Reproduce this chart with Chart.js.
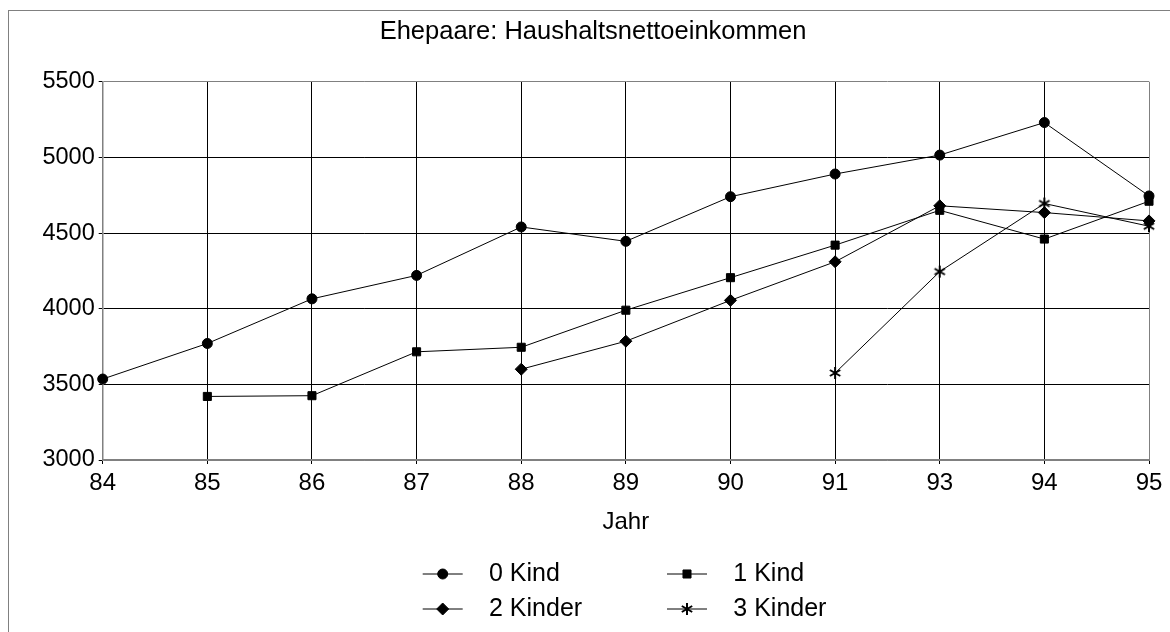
<!DOCTYPE html>
<html>
<head>
<meta charset="utf-8">
<title>Ehepaare: Haushaltsnettoeinkommen</title>
<script src="https://cdn.jsdelivr.net/npm/chart.js@4/dist/chart.umd.min.js"></script>
<style>
  html, body { margin: 0; padding: 0; background: #fff; width: 1170px; height: 632px; overflow: hidden; }
  #frame {
    position: absolute; left: 8px; top: 10px;
    width: 1170px; height: 632px;
    border: 1px solid #808080;
    background: #fff;
  }
  #chart { display: block; }
</style>
</head>
<body>
<div id="frame">
  <canvas id="chart" width="1170" height="621"></canvas>
</div>
<script>
// ─────────────────────────────────────────────
// Data
// ─────────────────────────────────────────────
const years   = ["84", "85", "86", "87", "88", "89", "90", "91", "93", "94", "95"];
const kind0   = [3535, 3770, 4065, 4220, 4540, 4445, 4740, 4890, 5015, 5230, 4745];
const kind1   = [null, 3420, 3425, 3715, 3745, 3990, 4205, 4420, 4650, 4460, 4710];
const kinder2 = [null, null, null, null, 3600, 3785, 4055, 4310, 4680, 4635, 4580];
const kinder3 = [null, null, null, null, null, null, null, 3575, 4245, 4695, 4545];
const seriesNames = ["0 Kind", "1 Kind", "2 Kinder", "3 Kinder"];
const yTicks  = [3000, 3500, 4000, 4500, 5000, 5500];

const FONT = '"Liberation Sans", Arial, sans-serif';
const GRID_EDGE = "#808080";

// six-armed asterisk marker for "3 Kinder"
function makeAsterisk(size) {
  const c = document.createElement("canvas");
  c.width = size; c.height = size;
  const g = c.getContext("2d");
  const m = size / 2, r = size / 2 - 1;
  g.strokeStyle = "#000";
  g.lineWidth = 2;
  g.lineCap = "butt";
  g.beginPath();
  [90, 30, 150].forEach(deg => {
    const a = deg * Math.PI / 180;
    g.moveTo(m - r * Math.cos(a), m - r * Math.sin(a));
    g.lineTo(m + r * Math.cos(a), m + r * Math.sin(a));
  });
  g.stroke();
  return c;
}
const asterisk = makeAsterisk(14);

function series(label, data, style, radius) {
  return {
    label, data,
    borderColor: "#000",
    borderWidth: 1,
    backgroundColor: "#000",
    pointStyle: style,
    pointRadius: radius,
    pointBackgroundColor: "#000",
    pointBorderColor: "#000",
    pointBorderWidth: 1,
    tension: 0,
    spanGaps: false,
  };
}

// ─────────────────────────────────────────────
// Legend: line + marker, two columns
// ─────────────────────────────────────────────
const lineLegend = {
  id: "lineLegend",
  afterDraw(chart) {
    const ctx  = chart.ctx;
    const cols = [413.7, 658];
    const rows = [563, 598];
    chart.data.datasets.forEach((ds, i) => {
      const x = cols[i % 2];
      const y = rows[Math.floor(i / 2)];
      ctx.save();
      ctx.strokeStyle = "#000";
      ctx.fillStyle = "#000";
      ctx.lineWidth = 1;
      ctx.beginPath();
      ctx.moveTo(x, y);
      ctx.lineTo(x + 40, y);
      ctx.stroke();
      Chart.helpers.drawPoint(ctx, {
        pointStyle: ds.pointStyle, radius: ds.pointRadius, borderWidth: 1, rotation: 0
      }, x + 20, y);
      ctx.font = `25px ${FONT}`;
      ctx.textBaseline = "middle";
      ctx.textAlign = "left";
      ctx.fillText(ds.label, x + 66.3, y);
      ctx.restore();
    });
  }
};

new Chart(document.getElementById("chart"), {
  type: "line",
  data: {
    labels: years,
    datasets: [
      series(seriesNames[0], kind0, "circle", 5),
      series(seriesNames[1], kind1, "rect", 5.7),
      series(seriesNames[2], kinder2, "rectRot", 6),
      series(seriesNames[3], kinder3, asterisk, 6),
    ]
  },
  options: {
    responsive: false,
    animation: false,
    devicePixelRatio: 1,
    events: [],
    layout: { padding: { top: 0, right: 30, bottom: 82, left: 28 } },
    plugins: {
      legend: { display: false },
      tooltip: { enabled: false },
      title: {
        display: true,
        text: "Ehepaare: Haushaltsnettoeinkommen",
        color: "#000",
        font: { family: FONT, size: 25.5, weight: "normal" },
        padding: { top: 6, bottom: 34.1 },
      },
    },
    scales: {
      x: {
        type: "category",
        offset: false,
        grid: {
          color: c => (c.index === 0 || c.index === years.length - 1) ? GRID_EDGE : "#000",
          tickColor: "#000",
          lineWidth: 1,
          tickLength: 4,
        },
        border: { color: GRID_EDGE, width: 1.5 },
        ticks: {
          color: "#000",
          font: { family: FONT, size: 24 },
          padding: 5,
          maxRotation: 0,
          autoSkip: false,
        },
        title: {
          display: true,
          text: "Jahr",
          color: "#000",
          font: { family: FONT, size: 24 },
          padding: { top: 0, bottom: 13.6 },
        },
        afterFit: s => { s.height = 90; },
      },
      y: {
        min: yTicks[0],
        max: yTicks[yTicks.length - 1],
        afterBuildTicks: s => { s.ticks = yTicks.map(v => ({ value: v })); },
        grid: {
          color: c => (c.index === 0 || c.index === yTicks.length - 1) ? GRID_EDGE : "#000",
          tickColor: "#000",
          lineWidth: 1,
          tickLength: 4,
        },
        border: { color: GRID_EDGE, width: 1.5 },
        ticks: {
          color: "#000",
          font: { family: FONT, size: 23.5 },
          padding: 4,
          callback: v => String(v),
        },
        afterFit: s => { s.width = 65.7; },
      },
    },
  },
  plugins: [lineLegend],
});
</script>
</body>
</html>
